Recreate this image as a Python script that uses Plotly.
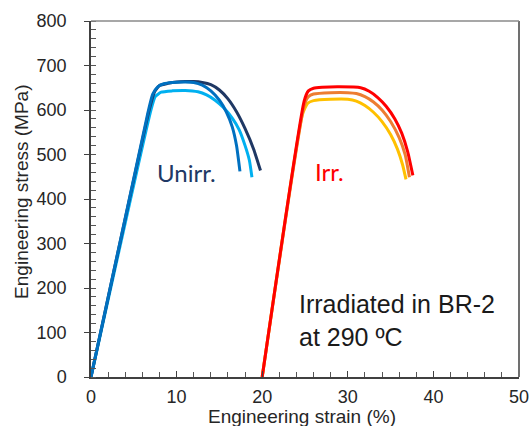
import plotly.graph_objects as go

# ---- data (engineering strain %, engineering stress MPa) ----
unirr_navy_x = [0, 6.8, 7.4, 8.0, 9.0, 10.0, 11.0, 12.0, 13.0, 14.0, 15.0, 16.0, 17.0, 18.0, 19.0, 19.8]
unirr_navy_y = [0, 600, 640, 655, 660, 663, 664, 664, 662, 657, 645, 625, 596, 558, 512, 464]

unirr_mid_x = [0, 6.6, 7.2, 7.8, 8.5, 9.5, 11.0, 12.0, 13.0, 14.0, 15.0, 15.8, 16.5, 17.0, 17.4]
unirr_mid_y = [0, 590, 635, 652, 659, 662, 663, 662, 656, 643, 622, 596, 562, 520, 462]

unirr_light_x = [0, 7.0, 7.5, 8.2, 9.5, 11.0, 12.5, 13.5, 14.5, 15.5, 16.5, 17.3, 18.0, 18.5, 18.8]
unirr_light_y = [0, 600, 630, 640, 643, 644, 641, 634, 622, 605, 582, 556, 520, 487, 449]

irr_yellow_x = [20, 24.7, 25.3, 26.0, 28.0, 30.0, 31.0, 32.0, 33.0, 34.0, 35.0, 35.8, 36.4, 36.8]
irr_yellow_y = [0, 590, 615, 621, 624, 624, 620, 610, 595, 574, 545, 512, 477, 444]

irr_orange_x = [20, 24.9, 25.4, 26.0, 28.0, 30.0, 31.0, 32.0, 33.0, 34.0, 35.0, 36.0, 36.7, 37.2]
irr_orange_y = [0, 610, 630, 636, 639, 639, 637, 630, 618, 600, 574, 538, 500, 449]

irr_red_x = [20, 24.9, 25.4, 26.0, 27.0, 29.0, 31.5, 32.5, 33.5, 34.5, 35.5, 36.3, 37.0, 37.6]
irr_red_y = [0, 620, 643, 649, 651, 652, 650, 642, 628, 608, 580, 548, 506, 453]

x_ticks = [0, 10, 20, 30, 40, 50]
y_ticks = [0, 100, 200, 300, 400, 500, 600, 700, 800]

series = [
    (unirr_light_x, unirr_light_y, "#00B0F0"),
    (unirr_navy_x, unirr_navy_y, "#1F3864"),
    (unirr_mid_x, unirr_mid_y, "#0070C0"),
    (irr_yellow_x, irr_yellow_y, "#FFC000"),
    (irr_orange_x, irr_orange_y, "#ED7D31"),
    (irr_red_x, irr_red_y, "#FF0000"),
]

fig = go.Figure()
for xs, ys, c in series:
    fig.add_trace(go.Scatter(x=xs, y=ys, mode="lines",
                             line=dict(color=c, width=3, shape="spline", smoothing=0.5),
                             showlegend=False, hoverinfo="skip"))

axis_col = "#404040"
tick_font = dict(family="Liberation Sans, Arial", size=18, color="#262626")

fig.update_xaxes(range=[0, 50], tickvals=x_ticks, showgrid=False, zeroline=False,
                 showline=True, linecolor=axis_col, linewidth=1.5, automargin=False,
                 ticks="inside", ticklen=6, tickcolor=axis_col, tickwidth=1,
                 minor=dict(dtick=2, ticks="inside", ticklen=5, tickcolor="#555555"),
                 tickfont=tick_font, ticklabelstandoff=3, ticklabeloverflow="allow")
fig.update_yaxes(range=[0, 800], tickvals=y_ticks, showgrid=False, zeroline=False,
                 showline=True, linecolor=axis_col, linewidth=1.5, automargin=False,
                 ticks="outside", ticklen=5, tickcolor=axis_col, tickwidth=1,
                 minor=dict(dtick=20, ticks="inside", ticklen=5, tickcolor="#555555"),
                 tickfont=tick_font, ticklabelstandoff=14)

# right and top frame
fig.add_shape(type="line", xref="paper", yref="paper", x0=1, x1=1, y0=0, y1=1,
              line=dict(color=axis_col, width=1.5))
fig.add_shape(type="line", xref="paper", yref="paper", x0=0, x1=1, y0=1, y1=1,
              line=dict(color="#8a8a8a", width=1.5))

fig.add_annotation(text="Unirr.", x=11.1, y=460, xref="x", yref="y", showarrow=False,
                   font=dict(family="Lato, Liberation Sans", size=24, color="#203864"))
fig.add_annotation(text="Irr.", x=27.9, y=462, xref="x", yref="y", showarrow=False,
                   font=dict(family="Lato, Liberation Sans", size=24, color="#FF0000"))
fig.add_annotation(text="Irradiated in BR-2<br>at 290 ºC", x=24.1, y=128, xref="x", yref="y",
                   xanchor="left", yanchor="middle", align="left", showarrow=False,
                   font=dict(family="Liberation Sans, Arial", size=25, color="#1a1a1a"))

fig.add_annotation(text="Engineering strain (%)", xref="paper", yref="paper", x=0.493, y=0,
                   yshift=-39, xanchor="center", yanchor="middle", showarrow=False,
                   font=dict(family="Liberation Sans, Arial", size=19, color="#262626"))
fig.add_annotation(text="Engineering stress (MPa)", xref="paper", yref="paper", x=0, y=0.52,
                   xshift=-69, xanchor="center", yanchor="middle", textangle=-90, showarrow=False,
                   font=dict(family="Liberation Sans, Arial", size=19, color="#262626"))

fig.update_layout(width=529, height=426, margin=dict(l=91, r=10, t=21, b=49),
                  paper_bgcolor="white", plot_bgcolor="white")

fig.write_html("out.html")
